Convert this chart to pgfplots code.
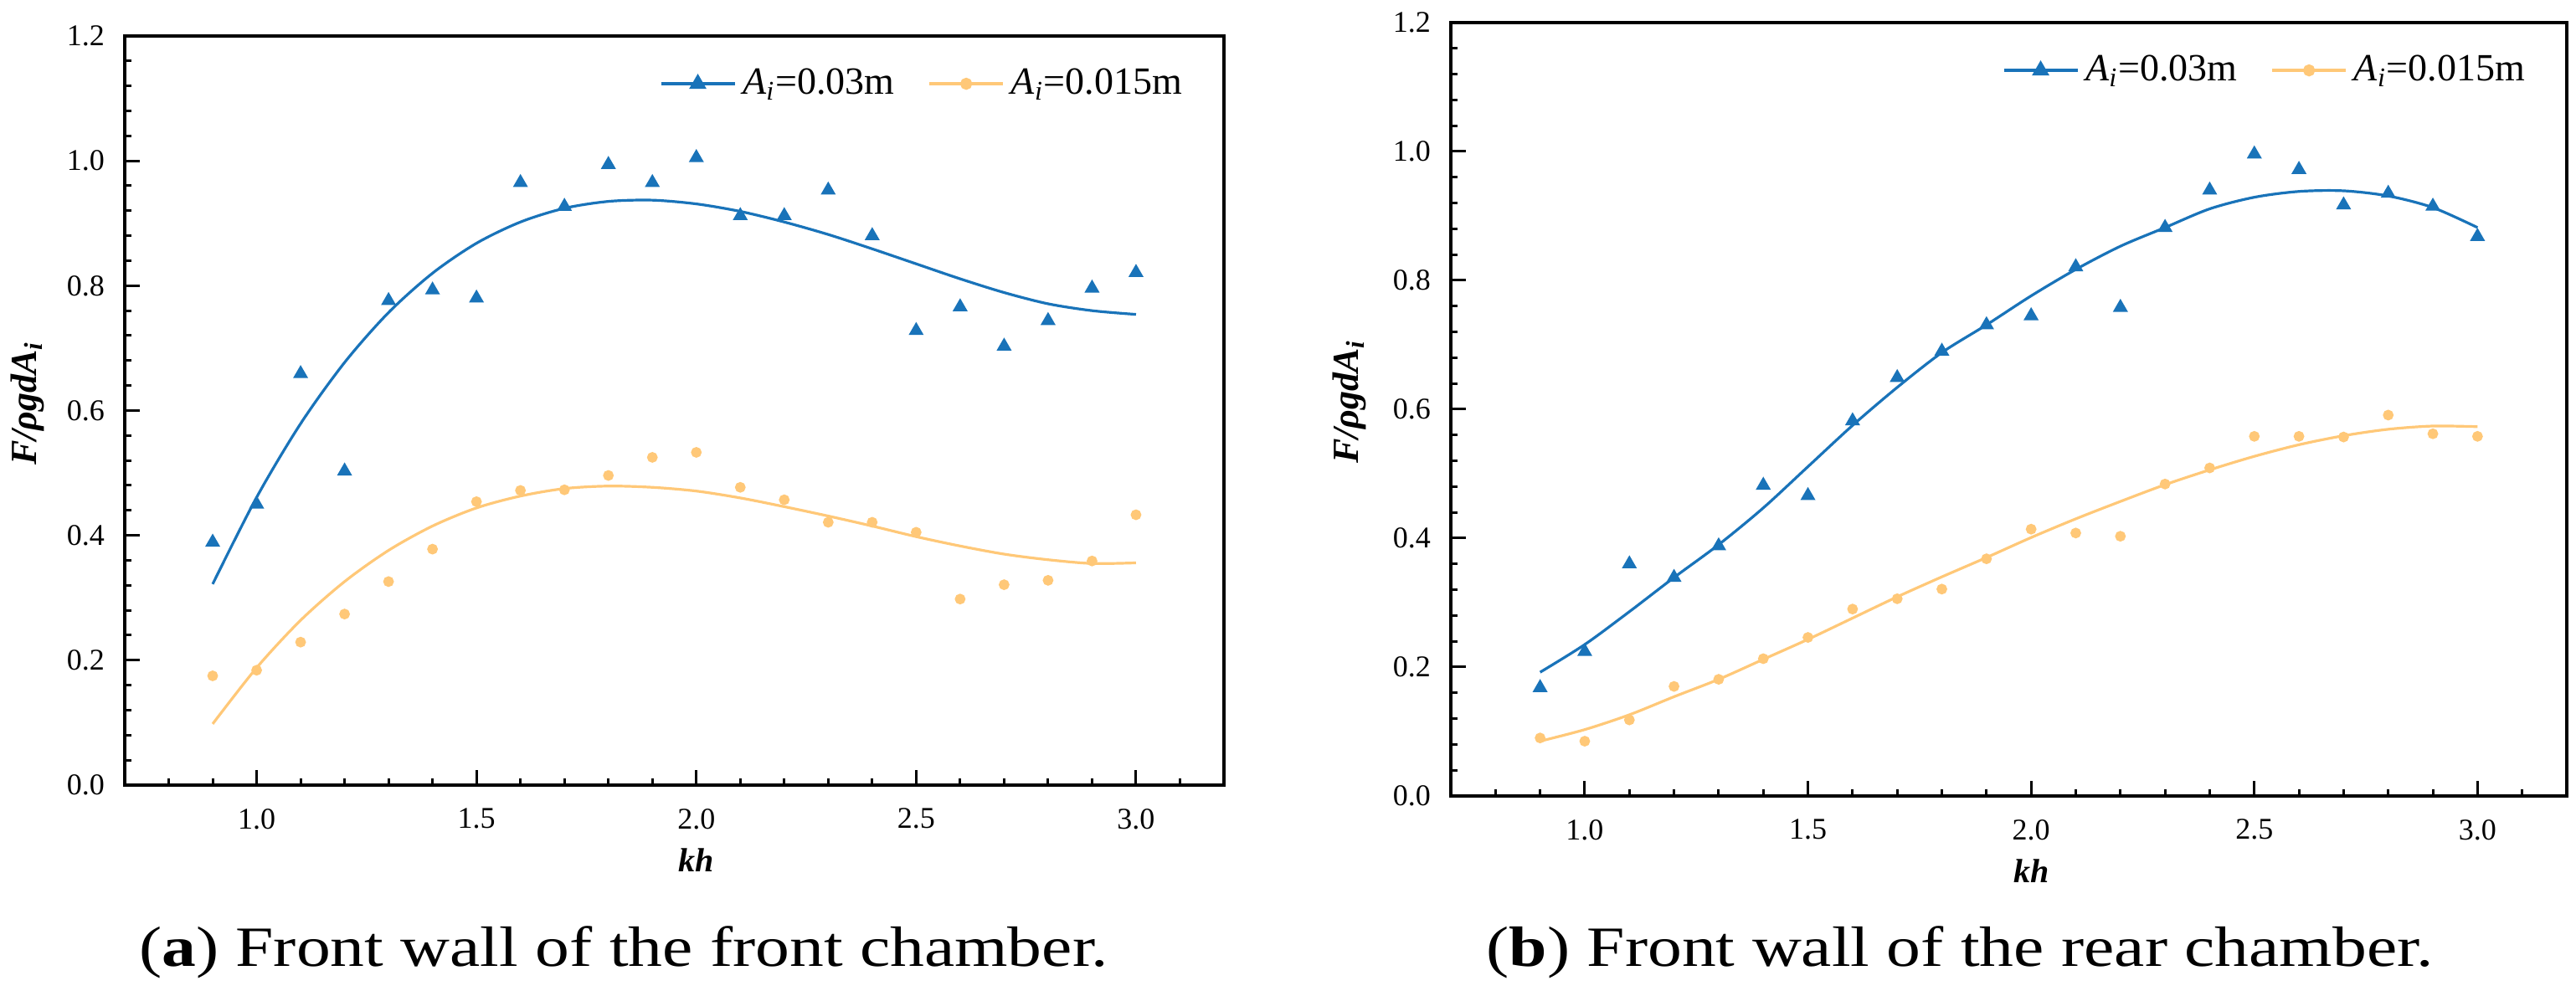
\documentclass[border=0pt]{standalone}
\usepackage{pgfplots}
\pgfplotsset{compat=1.18}
\usepackage{fontspec}
\setmainfont{Liberation Serif}
\usepackage{graphicx}

\definecolor{cblue}{RGB}{25,115,185}
\definecolor{corange}{RGB}{255,200,120}

% left panel
\pgfplotstableread{
x y
0.9 0.389
1.0 0.450
1.1 0.659
1.2 0.503
1.3 0.776
1.4 0.793
1.5 0.780
1.6 0.965
1.7 0.927
1.8 0.994
1.9 0.965
2.0 1.005
2.1 0.912
2.2 0.912
2.3 0.953
2.4 0.880
2.5 0.728
2.6 0.766
2.7 0.703
2.8 0.744
2.9 0.796
3.0 0.821
}\aBig
\pgfplotstableread{
x y
0.9 0.175
1.0 0.184
1.1 0.229
1.2 0.274
1.3 0.326
1.4 0.378
1.5 0.454
1.6 0.472
1.7 0.473
1.8 0.496
1.9 0.525
2.0 0.533
2.1 0.477
2.2 0.457
2.3 0.421
2.4 0.421
2.5 0.405
2.6 0.298
2.7 0.321
2.8 0.328
2.9 0.359
3.0 0.433
}\aSmall
\pgfplotstableread{
x y
0.9 0.322
1.0 0.461
1.1 0.579
1.2 0.677
1.3 0.757
1.4 0.820
1.5 0.868
1.6 0.902
1.7 0.924
1.8 0.935
1.9 0.937
2.0 0.931
2.1 0.919
2.2 0.902
2.3 0.882
2.4 0.859
2.5 0.835
2.6 0.811
2.7 0.789
2.8 0.771
2.9 0.760
3.0 0.754
}\aBigFit
\pgfplotstableread{
x y
0.9 0.098
1.0 0.188
1.1 0.264
1.2 0.326
1.3 0.376
1.4 0.415
1.5 0.444
1.6 0.463
1.7 0.475
1.8 0.479
1.9 0.477
2.0 0.471
2.1 0.460
2.2 0.446
2.3 0.431
2.4 0.415
2.5 0.398
2.6 0.383
2.7 0.370
2.8 0.361
2.9 0.355
3.0 0.356
}\aSmallFit

% right panel
\pgfplotstableread{
x y
0.9 0.168
1.0 0.224
1.1 0.360
1.2 0.339
1.3 0.388
1.4 0.482
1.5 0.466
1.6 0.582
1.7 0.649
1.8 0.690
1.9 0.731
2.0 0.745
2.1 0.821
2.2 0.758
2.3 0.882
2.4 0.940
2.5 0.996
2.6 0.972
2.7 0.917
2.8 0.935
2.9 0.915
3.0 0.868
}\bBig
\pgfplotstableread{
x y
0.9 0.090
1.0 0.085
1.1 0.118
1.2 0.170
1.3 0.181
1.4 0.213
1.5 0.246
1.6 0.290
1.7 0.306
1.8 0.321
1.9 0.368
2.0 0.414
2.1 0.408
2.2 0.403
2.3 0.484
2.4 0.509
2.5 0.558
2.6 0.558
2.7 0.557
2.8 0.591
2.9 0.562
3.0 0.558
}\bSmall
\pgfplotstableread{
x y
0.9 0.192
1.0 0.235
1.1 0.286
1.2 0.339
1.3 0.390
1.4 0.447
1.5 0.511
1.6 0.575
1.7 0.634
1.8 0.688
1.9 0.731
2.0 0.776
2.1 0.817
2.2 0.853
2.3 0.882
2.4 0.911
2.5 0.929
2.6 0.938
2.7 0.939
2.8 0.931
2.9 0.913
3.0 0.882
}\bBigFit
\pgfplotstableread{
x y
0.9 0.085
1.0 0.103
1.1 0.126
1.2 0.154
1.3 0.181
1.4 0.212
1.5 0.243
1.6 0.276
1.7 0.309
1.8 0.340
1.9 0.370
2.0 0.401
2.1 0.430
2.2 0.457
2.3 0.483
2.4 0.506
2.5 0.527
2.6 0.545
2.7 0.559
2.8 0.569
2.9 0.574
3.0 0.573
}\bSmallFit

\pgfplotsset{
  panel/.style={
    scale only axis,
    xmin=0.7, xmax=3.2, ymin=0, ymax=1.2,
    xtick={1,1.5,2,2.5,3},
    ytick={0,0.2,0.4,0.6,0.8,1.0,1.2},
    minor xtick={0.8,0.9,1.1,1.2,1.3,1.4,1.6,1.7,1.8,1.9,2.1,2.2,2.3,2.4,2.6,2.7,2.8,2.9,3.1},
    minor ytick={0.04,0.08,0.12,0.16,0.24,0.28,0.32,0.36,0.44,0.48,0.52,0.56,0.64,0.68,0.72,0.76,0.84,0.88,0.92,0.96,1.04,1.08,1.12,1.16},
    tick pos=left, tick align=inside,
    major tick length=4.6pt, minor tick length=2.1pt,
    every tick/.style={black, line width=0.75pt},
    axis line style={line width=0.8pt},
    /pgf/number format/.cd, fixed, fixed zerofill, precision=1, assume math mode=true,
    /pgfplots/.cd,
    tick label style={font=\fontsize{9}{10}\selectfont},
    xticklabel style={yshift=-3.5pt},
    yticklabel style={xshift=-2.5pt},
    xlabel={\bfseries\itshape kh},
    xlabel style={font=\fontsize{10}{11}\selectfont, anchor=base, at={(axis cs:2.0,0)}, yshift=-26pt},
    ylabel={\bfseries\itshape F/ρgdA\textsubscript{i}},
    ylabel style={font=\fontsize{11}{12}\selectfont, anchor=center},
    legend style={draw=none, fill=none, inner sep=0pt, anchor=north east,
      at={(axis description cs:1,1)}, xshift=-10.25pt, yshift=-7.5pt,
      font=\fontsize{11.5}{12}\selectfont, legend columns=2,
      /tikz/every even column/.append style={column sep=8pt}},
    legend image code/.code={
      \draw[mark repeat=2, mark phase=2] plot coordinates {(0pt,0pt) (11pt,0pt) (22pt,0pt)};},
    fitline/.style={smooth, no marks, line width=0.8pt},
    tri/.style={only marks, mark=triangle*, mark size=2.2pt, cblue},
    dot/.style={only marks, mark=*, mark size=1.4pt, corange},
  }
}

\begin{document}
\begin{tikzpicture}
\path[use as bounding box] (0pt,0pt) rectangle (769.25pt,-296pt);

\begin{axis}[panel, width=328.25pt, height=223.75pt,
  at={(37.25pt,-234.5pt)}, anchor=south west,
  ylabel style={at={(axis description cs:-0.0884,0.51)}}]
  \addlegendimage{cblue, line width=0.8pt, mark=triangle*, mark size=2.2pt}
  \addlegendentry{\textit{A}\textsubscript{\textit{i}}=0.03m}
  \addlegendimage{corange, line width=0.8pt, mark=*, mark size=1.4pt}
  \addlegendentry{\textit{A}\textsubscript{\textit{i}}=0.015m}
  \addplot[tri, forget plot] table {\aBig};
  \addplot[dot, forget plot] table {\aSmall};
  \addplot[cblue, fitline, forget plot] table {\aBigFit};
  \addplot[corange, fitline, forget plot] table {\aSmallFit};
\end{axis}

\begin{axis}[panel, width=333.25pt, height=231pt,
  at={(433.25pt,-237.75pt)}, anchor=south west,
  ylabel style={at={(axis description cs:-0.0908,0.51)}}]
  \addlegendimage{cblue, line width=0.8pt, mark=triangle*, mark size=2.2pt}
  \addlegendentry{\textit{A}\textsubscript{\textit{i}}=0.03m}
  \addlegendimage{corange, line width=0.8pt, mark=*, mark size=1.4pt}
  \addlegendentry{\textit{A}\textsubscript{\textit{i}}=0.015m}
  \addplot[tri, forget plot] table {\bBig};
  \addplot[dot, forget plot] table {\bSmall};
  \addplot[cblue, fitline, forget plot] table {\bBigFit};
  \addplot[corange, fitline, forget plot] table {\bSmallFit};
\end{axis}

\node[anchor=base] at (186.25pt,-288.75pt)
  {\scalebox{1.2}[1]{\fontsize{17}{20}\selectfont (\textbf{a}) Front wall of the front chamber.}};
\node[anchor=base] at (585.25pt,-288.75pt)
  {\scalebox{1.2}[1]{\fontsize{17}{20}\selectfont (\textbf{b}) Front wall of the rear chamber.}};
\end{tikzpicture}
\end{document}
